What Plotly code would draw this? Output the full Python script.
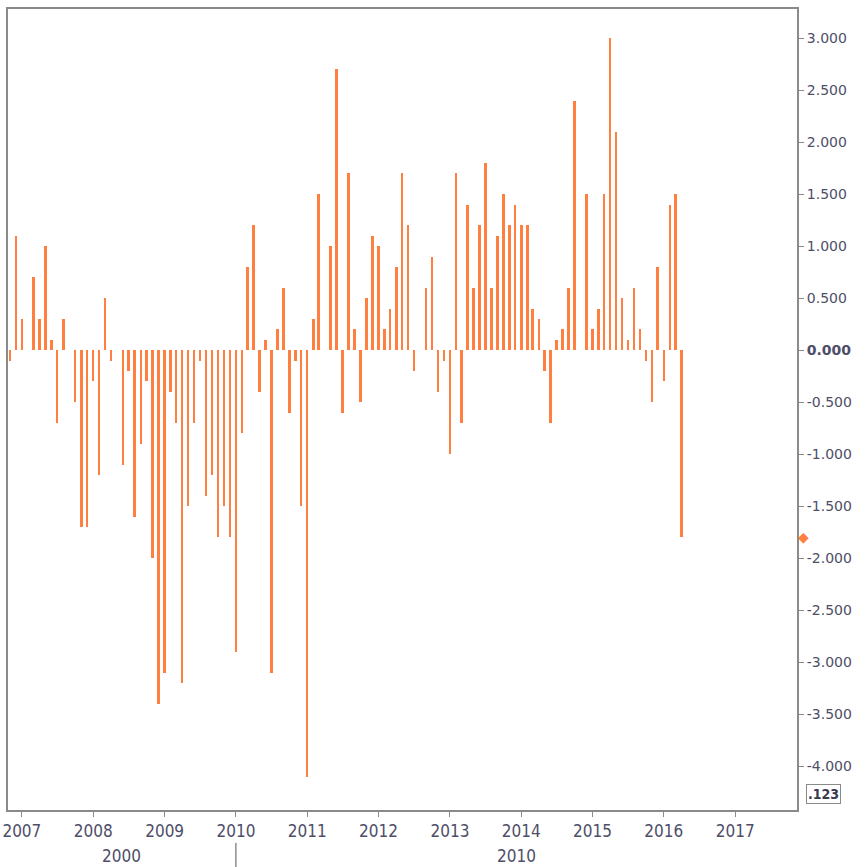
import plotly.graph_objects as go
import pandas as pd

# ---- data (monthly values, Nov 2006 .. Apr 2016) ----
start_month = "2006-11-01"
values = [
    -0.1, 1.1,                                                   # 2006 Nov-Dec
    0.3, 0.0, 0.7, 0.3, 1.0, 0.1, -0.7, 0.3, 0.0, -0.5, -1.7, -1.7,   # 2007
    -0.3, -1.2, 0.5, -0.1, 0.0, -1.1, -0.2, -1.6, -0.9, -0.3, -2.0, -3.4,  # 2008
    -3.1, -0.4, -0.7, -3.2, -1.5, -0.7, -0.1, -1.4, -1.2, -1.8, -1.5, -1.8,  # 2009
    -2.9, -0.8, 0.8, 1.2, -0.4, 0.1, -3.1, 0.2, 0.6, -0.6, -0.1, -1.5,   # 2010
    -4.1, 0.3, 1.5, 0.0, 1.0, 2.7, -0.6, 1.7, 0.2, -0.5, 0.5, 1.1,     # 2011
    1.0, 0.2, 0.4, 0.8, 1.7, 1.2, -0.2, 0.0, 0.6, 0.9, -0.4, -0.1,     # 2012
    -1.0, 1.7, -0.7, 1.4, 0.6, 1.2, 1.8, 0.6, 1.1, 1.5, 1.2, 1.4,      # 2013
    1.2, 1.2, 0.4, 0.3, -0.2, -0.7, 0.1, 0.2, 0.6, 2.4, 0.0, 1.5,      # 2014
    0.2, 0.4, 1.5, 3.0, 2.1, 0.5, 0.1, 0.6, 0.2, -0.1, -0.5, 0.8,      # 2015
    -0.3, 1.4, 1.5, -1.8,                                        # 2016
]
dates = pd.date_range(start_month, periods=len(values), freq="MS")

y_tick_values = [3.0, 2.5, 2.0, 1.5, 1.0, 0.5, 0.0, -0.5, -1.0, -1.5, -2.0, -2.5, -3.0, -3.5, -4.0]
y_tick_labels = ["3.000", "2.500", "2.000", "1.500", "1.000", "0.500", "<b>0.000</b>",
                 "-0.500", "-1.000", "-1.500", "-2.000", "-2.500", "-3.000", "-3.500", "-4.000"]
decade_labels = ["2000", "2010"]
decade_split = "2010-01-01"
x_range = ["2006-10-22", "2017-11-13"]
y_range = [-4.42, 3.28]

BAR = "#FF7F40"
AXIS = "#8a8a8a"
TXT = "#4e4e68"
XFONT = "Liberation Sans Narrow, DejaVu Sans Condensed, sans-serif"

fig = go.Figure()
fig.add_trace(go.Bar(
    x=dates, y=values,
    width=13 * 24 * 3600 * 1000,
    marker=dict(color=BAR, line=dict(width=0)),
    showlegend=False,
))

fig.update_layout(
    width=866, height=867,
    margin=dict(l=8, r=69, t=9, b=57, autoexpand=False),
    paper_bgcolor="white", plot_bgcolor="white",
    bargap=0,
    xaxis=dict(
        type="date", range=x_range,
        tick0="2007-01-01", dtick="M12", tickformat="%Y",
        ticks="outside", ticklen=5, tickwidth=1, tickcolor=AXIS,
        showline=True, linecolor=AXIS, linewidth=2, mirror=True,
        showgrid=False, zeroline=False, automargin=False,
        ticklabeloverflow="allow",
        tickfont=dict(family=XFONT, size=17, color=TXT),
    ),
    yaxis=dict(
        side="right", range=y_range,
        tickvals=y_tick_values, ticktext=y_tick_labels,
        ticks="outside", ticklen=5, tickwidth=1, tickcolor=AXIS,
        showline=True, linecolor=AXIS, linewidth=2, mirror=True,
        showgrid=False, zeroline=False, automargin=False,
        tickfont=dict(family="DejaVu Sans, sans-serif", size=14, color=TXT),
    ),
)

# decade row labels
r0 = pd.Timestamp(x_range[0]); r1 = pd.Timestamp(x_range[1]); sp = pd.Timestamp(decade_split)
mids = [r0 + (sp - r0) / 2, sp + (r1 - sp) / 2]
for lab, m in zip(decade_labels, mids):
    fig.add_annotation(x=m, xref="x", y=-0.057, yref="paper", text=lab, showarrow=False,
                       font=dict(family=XFONT, size=17, color=TXT), yanchor="middle")
fig.add_shape(type="line", x0=decade_split, x1=decade_split, xref="x",
              y0=-0.041, y1=-0.075, yref="paper", line=dict(color="#555555", width=1))

# last value marker on axis
fig.add_annotation(x=1, xref="paper", y=values[-1], yref="y", text="◆", showarrow=False,
                   xanchor="center", xshift=6, font=dict(size=14, color=BAR, family="DejaVu Sans"))

# ".123" box
fig.add_annotation(x=1, xref="paper", y=0, yref="paper", text="<b>.123</b>", showarrow=False,
                   xanchor="left", yanchor="middle", xshift=9, yshift=16,
                   bordercolor=AXIS, borderwidth=1, borderpad=1,
                   font=dict(size=14, color="#3a3a50", family="DejaVu Sans Condensed, sans-serif"))

fig.write_html("out.html", config={"displayModeBar": False},
               post_script="document.body.style.margin='0';")
